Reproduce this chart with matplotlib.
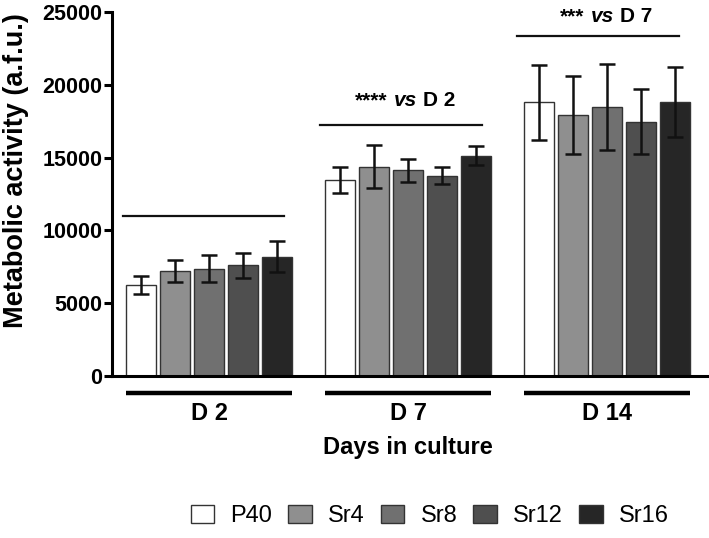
import numpy as np
import matplotlib.pyplot as plt
from matplotlib.patches import Patch
import matplotlib.transforms as mtransforms

plt.rcParams['font.family'] = ['Liberation Sans', 'DejaVu Sans']

days = ['D 2', 'D 7', 'D 14']
series = ['P40', 'Sr4', 'Sr8', 'Sr12', 'Sr16']
colors = ['#ffffff', '#8f8f8f', '#707070', '#4f4f4f', '#262626']

# mean metabolic activity per series, one value per day
means = {
    'P40':  [6250, 13460, 18800],
    'Sr4':  [7220, 14380, 17930],
    'Sr8':  [7380, 14130, 18450],
    'Sr12': [7600, 13760, 17450],
    'Sr16': [8200, 15130, 18820],
}
errs = {
    'P40':  [650, 900, 2570],
    'Sr4':  [780, 1450, 2690],
    'Sr8':  [940, 780, 2940],
    'Sr12': [840, 600, 2240],
    'Sr16': [1060, 640, 2420],
}

# significance brackets: (x start, x end, line y, text y, stars, reference)
sig_lines = [(-0.436, 0.375, 11000, None, None, None),
             (0.557, 1.373, 17200, 18900, '****', 'D 2'),
             (1.549, 2.365, 23350, 24650, '***', 'D 7')]

fig = plt.figure(figsize=(7.09, 5.38), dpi=100)
ax = fig.add_axes([0.158, 0.301, 0.841, 0.677])

x = np.arange(len(days))
step = 0.171
width = 0.151
for i, s in enumerate(series):
    xs = x + (i - 2) * step
    ax.bar(xs, means[s], width, color=colors[i], edgecolor='#333333', linewidth=1, zorder=2)
    ax.errorbar(xs, means[s], yerr=errs[s], fmt='none', ecolor='#111111',
                elinewidth=1.8, capsize=6, capthick=1.8, zorder=3)

ax.set_xlim(-0.49, 2.51)
ax.set_ylim(0, 25000)
ax.set_yticks(np.arange(0, 25001, 5000))
ax.set_xticks([])
for sp in ['top', 'right']:
    ax.spines[sp].set_visible(False)
for sp in ['left', 'bottom']:
    ax.spines[sp].set_linewidth(2.2)
ax.tick_params(axis='y', length=6, width=2.2, labelsize=15.5, pad=1)
for lbl in ax.get_yticklabels():
    lbl.set_fontweight('bold')
ax.set_ylabel('Metabolic activity (a.f.u.)', fontsize=19.5, fontweight='bold')
ax.yaxis.set_label_coords(-0.14, 0.565)

# significance lines and labels
for x0, x1, yv, yt, stars, ref in sig_lines:
    ax.plot([x0, x1], [yv, yv], color='#111111', lw=1.6, clip_on=False)
    if stars:
        xc = (x0 + x1) / 2 + 0.02
        ax.annotate('vs', (xc, yt), ha='center', va='center', fontsize=15,
                    fontweight='bold', style='italic', annotation_clip=False)
        ax.annotate(stars, (xc, yt), xytext=(-13, 0), textcoords='offset points',
                    ha='right', va='center', fontsize=15, fontweight='bold',
                    annotation_clip=False)
        ax.annotate(ref, (xc, yt), xytext=(13, 0), textcoords='offset points',
                    ha='left', va='center', fontsize=15, fontweight='bold',
                    annotation_clip=False)

# group underlines and day labels below the axis
trans = mtransforms.blended_transform_factory(ax.transData, ax.transAxes)
for gx, d in zip(x, days):
    left = gx - 2 * step - width / 2
    right = gx + 2 * step + width / 2
    ax.plot([left, right], [-0.047, -0.047], color='black', lw=3.2,
            transform=trans, clip_on=False, solid_capstyle='butt')
    ax.text(gx, -0.104, d, transform=trans, ha='center', va='center',
            fontsize=17, fontweight='bold')
ax.text(1.0, -0.196, 'Days in culture', transform=trans, ha='center', va='center',
        fontsize=17, fontweight='bold')

handles = [Patch(facecolor=c, edgecolor='#333333', linewidth=1) for c in colors]
fig.legend(handles, series, loc='center', bbox_to_anchor=(0.606, 0.041), ncol=5,
           frameon=False, fontsize=17, handlelength=1.0, handleheight=0.85,
           handletextpad=0.68, columnspacing=0.68, borderpad=0, borderaxespad=0)

fig.savefig('out.png', dpi=100)
